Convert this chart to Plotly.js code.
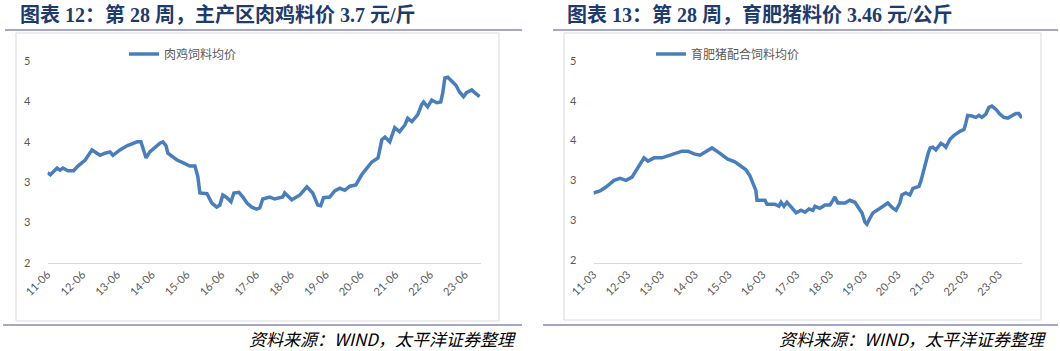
<!DOCTYPE html>
<html>
<head>
<meta charset="utf-8">
<script src="https://cdn.plot.ly/plotly-3.0.1.min.js"></script>
<style>
html,body{margin:0;padding:0;background:#fff;}
#chart{width:1060px;height:351px;}
</style>
</head>
<body>
<div id="chart"></div>
<script>
// ---- Left chart: 肉鸡饲料均价 ----
const chickenDates = [
 '2011-06-01','2011-07-01','2011-09-10','2011-10-10','2011-11-10','2012-01-01','2012-03-01','2012-04-15',
 '2012-07-01','2012-08-01','2012-09-10','2012-11-01','2012-12-05','2013-01-25','2013-03-18','2013-04-18',
 '2013-07-01','2013-09-12','2013-11-03','2013-12-28','2014-02-06','2014-02-27','2014-04-01','2014-05-10',
 '2014-07-03','2014-08-25','2014-09-25','2014-10-28','2014-11-16','2014-12-28','2015-02-20','2015-04-22',
 '2015-07-04','2015-08-27','2015-09-27','2015-10-18','2016-01-01','2016-02-21','2016-04-12','2016-05-15',
 '2016-06-15','2016-07-28','2016-09-09','2016-10-09','2016-12-01','2017-01-12','2017-02-24','2017-04-15',
 '2017-06-06','2017-07-09','2017-08-09','2017-10-21','2017-12-12','2018-03-06','2018-03-27','2018-06-09',
 '2018-09-03','2018-11-15','2019-01-15','2019-03-09','2019-04-09','2019-05-09','2019-07-12','2019-09-03',
 '2019-10-27','2019-12-18','2020-02-09','2020-04-12','2020-06-12','2020-08-06','2020-09-27','2020-12-01',
 '2021-01-10','2021-02-12','2021-04-03','2021-05-25','2021-07-15','2021-09-09','2021-10-09','2021-11-21',
 '2022-01-21','2022-03-03','2022-03-24','2022-05-06','2022-06-18','2022-08-09','2022-09-21','2022-10-12',
 '2022-11-03','2022-12-03','2023-01-15','2023-02-27','2023-04-06','2023-05-18','2023-06-18','2023-08-12',
 '2023-09-12','2023-10-12','2023-11-03'
];
const chickenValues = [
 3.34,3.31,3.41,3.38,3.41,3.37,3.37,3.44,
 3.53,3.60,3.68,3.63,3.60,3.63,3.65,3.60,
 3.68,3.74,3.77,3.80,3.80,3.72,3.56,3.65,
 3.72,3.78,3.80,3.74,3.63,3.59,3.53,3.49,
 3.44,3.44,3.28,3.04,3.03,2.89,2.83,2.86,
 3.01,2.97,2.91,3.04,3.05,2.98,2.89,2.83,
 2.80,2.82,2.95,2.98,2.95,2.98,3.04,2.94,
 3.01,3.13,3.04,2.86,2.85,2.97,2.98,3.07,
 3.11,3.08,3.14,3.16,3.31,3.41,3.50,3.56,
 3.83,3.87,3.80,4.01,3.95,4.05,4.15,4.10,
 4.20,4.35,4.39,4.32,4.42,4.38,4.39,4.53,
 4.75,4.76,4.69,4.64,4.54,4.47,4.53,4.57,
 4.53,4.50,4.47
];
// ---- Right chart: 育肥猪配合饲料均价 ----
const pigDates = [
 '2011-03-01','2011-05-10','2011-07-13','2011-08-28','2011-10-10','2011-12-13','2012-02-16','2012-04-20',
 '2012-06-25','2012-08-28','2012-10-10','2012-12-15','2013-03-10','2013-06-05','2013-08-10','2013-10-13',
 '2013-12-16','2014-02-20','2014-04-25','2014-06-28','2014-09-02','2014-10-25','2014-12-18','2015-02-20',
 '2015-05-07','2015-07-12','2015-09-04','2015-10-17','2015-11-18','2015-12-20','2016-01-01','2016-03-28',
 '2016-04-18','2016-07-13','2016-08-25','2016-09-17','2016-10-19','2016-11-20','2017-01-04','2017-02-27',
 '2017-04-21','2017-06-04','2017-07-16','2017-08-28','2017-09-19','2017-11-12','2018-01-06','2018-03-01',
 '2018-04-01','2018-04-22','2018-05-25','2018-08-10','2018-10-01','2018-11-25','2018-12-28','2019-02-10',
 '2019-03-13','2019-04-03','2019-05-06','2019-06-07','2019-08-12','2019-10-15','2019-11-15','2020-01-10',
 '2020-02-12','2020-03-25','2020-04-15','2020-05-28','2020-07-12','2020-08-13','2020-10-18','2020-11-09',
 '2020-12-01','2021-01-01','2021-01-25','2021-02-15','2021-03-16','2021-04-18','2021-06-12','2021-07-15',
 '2021-08-04','2021-09-18','2021-11-01','2022-01-04','2022-02-17','2022-03-07','2022-03-28','2022-05-11',
 '2022-06-25','2022-07-27','2022-08-28','2022-10-10','2022-11-12','2022-12-15','2023-01-28','2023-03-10',
 '2023-04-22','2023-06-04','2023-07-18','2023-09-01','2023-10-01','2023-11-04'
];
const pigValues = [
 3.01,3.04,3.10,3.16,3.20,3.23,3.20,3.25,
 3.39,3.54,3.49,3.54,3.54,3.58,3.61,3.64,
 3.64,3.60,3.58,3.64,3.69,3.64,3.58,3.52,
 3.48,3.42,3.36,3.27,3.17,3.05,2.90,2.90,
 2.84,2.84,2.81,2.87,2.81,2.87,2.80,2.71,
 2.75,2.72,2.77,2.75,2.81,2.78,2.83,2.83,
 2.90,2.95,2.86,2.86,2.90,2.87,2.80,2.71,
 2.57,2.54,2.63,2.71,2.77,2.84,2.86,2.78,
 2.75,2.86,2.98,3.01,2.98,3.08,3.11,3.20,
 3.33,3.46,3.61,3.69,3.70,3.66,3.76,3.73,
 3.70,3.82,3.88,3.94,3.97,4.06,4.18,4.17,
 4.15,4.18,4.15,4.20,4.30,4.32,4.27,4.20,
 4.15,4.14,4.18,4.21,4.21,4.14
];
// ---- axis ticks ----
const yTickVals = [2, 2.6, 3.2, 3.8, 4.4, 5];
const yTickText = ['2', '3', '3', '4', '4', '5'];
const chickenTickVals = ['2011-06-01','2012-06-01','2013-06-01','2014-06-01','2015-06-01','2016-06-01','2017-06-01','2018-06-01','2019-06-01','2020-06-01','2021-06-01','2022-06-01','2023-06-01'];
const chickenTickText = ['11-06','12-06','13-06','14-06','15-06','16-06','17-06','18-06','19-06','20-06','21-06','22-06','23-06'];
const pigTickVals = ['2011-03-01','2012-03-01','2013-03-01','2014-03-01','2015-03-01','2016-03-01','2017-03-01','2018-03-01','2019-03-01','2020-03-01','2021-03-01','2022-03-01','2023-03-01'];
const pigTickText = ['11-03','12-03','13-03','14-03','15-03','16-03','17-03','18-03','19-03','20-03','21-03','22-03','23-03'];

const titleLeft = '图表 12：第 28 周，主产区肉鸡料价 3.7 元/斤';
const titleRight = '图表 13：第 28 周，育肥猪料价 3.46 元/公斤';
const legendLeft = '肉鸡饲料均价';
const legendRight = '育肥猪配合饲料均价';
const sourceText = '资料来源：WIND，太平洋证券整理';

// ---- geometry helpers (pixel -> paper) ----
const W = 1060, H = 351;
const px = x => x / W;
const py = y => 1 - y / H;

const lineColor = '#4A7EBB';
const tickFont = {family: 'Lato, "Noto Sans", sans-serif', size: 11, color: '#595959'};

const traces = [
  {x: chickenDates, y: chickenValues, type: 'scatter', mode: 'lines', name: legendLeft,
   line: {color: lineColor, width: 3.5}, xaxis: 'x', yaxis: 'y', legend: 'legend'},
  {x: pigDates, y: pigValues, type: 'scatter', mode: 'lines', name: legendRight,
   line: {color: lineColor, width: 3.5}, xaxis: 'x2', yaxis: 'y2', legend: 'legend2'}
];

function xAxis(domain, range, tv, tt) {
  return {domain: domain, type: 'date', range: range, tickmode: 'array', tickvals: tv, ticktext: tt,
    tickangle: -45, tickfont: tickFont, showgrid: false, zeroline: false,
    showline: true, linecolor: '#d9d9d9', linewidth: 1, ticks: '', fixedrange: true};
}
function yAxis(domain, anchor) {
  return {domain: domain, anchor: anchor, range: [2, 5], tickmode: 'array', tickvals: yTickVals, ticktext: yTickText,
    tickfont: tickFont, showgrid: false, zeroline: false, showline: false,
    ticks: 'outside', ticklen: 14, tickcolor: 'rgba(0,0,0,0)', fixedrange: true};
}

const titleFont = {family: '"Liberation Serif", "Noto Sans CJK SC", serif', size: 20, color: '#1F3B6B', weight: 'bold'};
const srcFont = {family: '"Noto Sans CJK SC", sans-serif', size: 17, color: '#000000', style: 'italic'};

const layout = {
  width: W, height: H,
  margin: {l: 0, r: 0, t: 0, b: 0},
  paper_bgcolor: '#ffffff', plot_bgcolor: 'rgba(0,0,0,0)',
  showlegend: true,
  xaxis: xAxis([px(47.5), px(480.5)], ['2011-06-01', '2023-11-12'], chickenTickVals, chickenTickText),
  yaxis: yAxis([py(263), py(61)], 'x'),
  xaxis2: xAxis([px(593.5), px(1022)], ['2011-03-01', '2023-11-05'], pigTickVals, pigTickText),
  yaxis2: yAxis([py(260), py(61)], 'x2'),
  legend: {x: px(124), y: py(54), xanchor: 'left', yanchor: 'middle', bgcolor: 'rgba(0,0,0,0)',
    font: {family: '"Noto Sans CJK SC", sans-serif', size: 12, color: '#595959'}},
  legend2: {x: px(651), y: py(54), xanchor: 'left', yanchor: 'middle', bgcolor: 'rgba(0,0,0,0)',
    font: {family: '"Noto Sans CJK SC", sans-serif', size: 12, color: '#595959'}},
  shapes: [
    // chart boxes
    {type: 'rect', xref: 'paper', yref: 'paper', x0: px(16), x1: px(499), y0: py(321), y1: py(33), line: {color: '#d9d9d9', width: 1}, layer: 'below'},
    {type: 'rect', xref: 'paper', yref: 'paper', x0: px(564), x1: px(1041), y0: py(320), y1: py(33), line: {color: '#d9d9d9', width: 1}, layer: 'below'},
    // title underlines
    {type: 'line', xref: 'paper', yref: 'paper', x0: px(5), x1: px(522), y0: py(30), y1: py(30), line: {color: '#A6A6C8', width: 2}},
    {type: 'line', xref: 'paper', yref: 'paper', x0: px(553), x1: px(1058), y0: py(30), y1: py(30), line: {color: '#A6A6C8', width: 2}},
    // bottom lines
    {type: 'line', xref: 'paper', yref: 'paper', x0: px(3), x1: px(522), y0: py(325), y1: py(325), line: {color: '#A6A6C8', width: 2}},
    {type: 'line', xref: 'paper', yref: 'paper', x0: px(543), x1: px(1058), y0: py(325), y1: py(325), line: {color: '#A6A6C8', width: 2}}
  ],
  annotations: [
    {text: titleLeft, xref: 'paper', yref: 'paper', x: px(18), y: py(15), xanchor: 'left', yanchor: 'middle', showarrow: false, font: titleFont},
    {text: titleRight, xref: 'paper', yref: 'paper', x: px(565), y: py(15), xanchor: 'left', yanchor: 'middle', showarrow: false, font: titleFont},
    {text: sourceText, xref: 'paper', yref: 'paper', x: px(518), y: py(338), xanchor: 'right', yanchor: 'middle', showarrow: false, font: srcFont},
    {text: sourceText, xref: 'paper', yref: 'paper', x: px(1048), y: py(338), xanchor: 'right', yanchor: 'middle', showarrow: false, font: srcFont}
  ]
};

Plotly.newPlot('chart', traces, layout, {displayModeBar: false, staticPlot: true});
</script>
</body>
</html>
